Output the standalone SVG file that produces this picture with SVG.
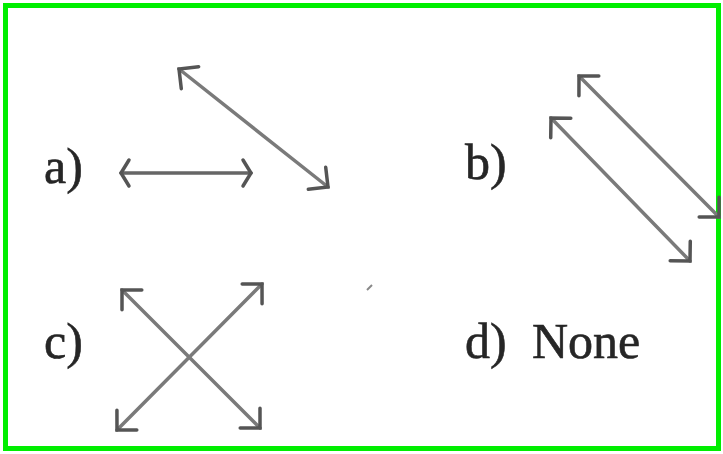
<svg xmlns="http://www.w3.org/2000/svg" width="723" height="454" viewBox="0 0 723 454">
<defs>
<style>
.lbl{font-family:"Liberation Serif","Times New Roman",serif;font-size:50px;fill:#262626;stroke:#262626;stroke-width:0.6}
.ln{stroke:#7a7a7a;stroke-width:3.5;fill:none;stroke-linecap:round}
.hd{stroke:#555;stroke-width:3.5;fill:none;stroke-linecap:round;stroke-linejoin:miter}
</style>
<marker id="ah" markerUnits="userSpaceOnUse" viewBox="-20 -20 24 40" refX="0" refY="0" markerWidth="24" markerHeight="40" orient="auto-start-reverse" overflow="visible">
<path class="hd" d="M -14 -14 L 0 0 L -14 14"/>
</marker>
<marker id="ahs" markerUnits="userSpaceOnUse" viewBox="-20 -20 24 40" refX="0" refY="0" markerWidth="24" markerHeight="40" orient="auto-start-reverse" overflow="visible">
<path class="hd" d="M -8 -13 L 0 0 L -8 13"/>
</marker>
</defs>
<rect x="5.5" y="5.5" width="713" height="443" fill="#fff" stroke="#00ee00" stroke-width="5"/>
<g id="labels">
<text class="lbl" x="44" y="183">a)</text>
<text class="lbl" x="465" y="179">b)</text>
<text class="lbl" x="44" y="358">c)</text>
<text class="lbl" x="465" y="358">d)</text>
<text class="lbl" x="532" y="358">None</text>
</g>
<g id="connectors">
<line class="ln" x1="121" y1="173" x2="251" y2="173" style="stroke:#666" marker-start="url(#ahs)" marker-end="url(#ahs)"/>
<line class="ln" x1="179" y1="69" x2="328" y2="187" marker-start="url(#ah)" marker-end="url(#ah)"/>
<line class="ln" x1="579" y1="76" x2="719" y2="217" marker-start="url(#ah)" marker-end="url(#ah)"/>
<line class="ln" x1="551" y1="118" x2="690" y2="261" marker-start="url(#ah)" marker-end="url(#ah)"/>
<line class="ln" x1="122" y1="290" x2="260" y2="428" marker-start="url(#ah)" marker-end="url(#ah)"/>
<line class="ln" x1="117" y1="430" x2="262" y2="284" marker-start="url(#ah)" marker-end="url(#ah)"/>
<line x1="367" y1="290" x2="372" y2="285" stroke="#888" stroke-width="2"/>
</g>
</svg>
